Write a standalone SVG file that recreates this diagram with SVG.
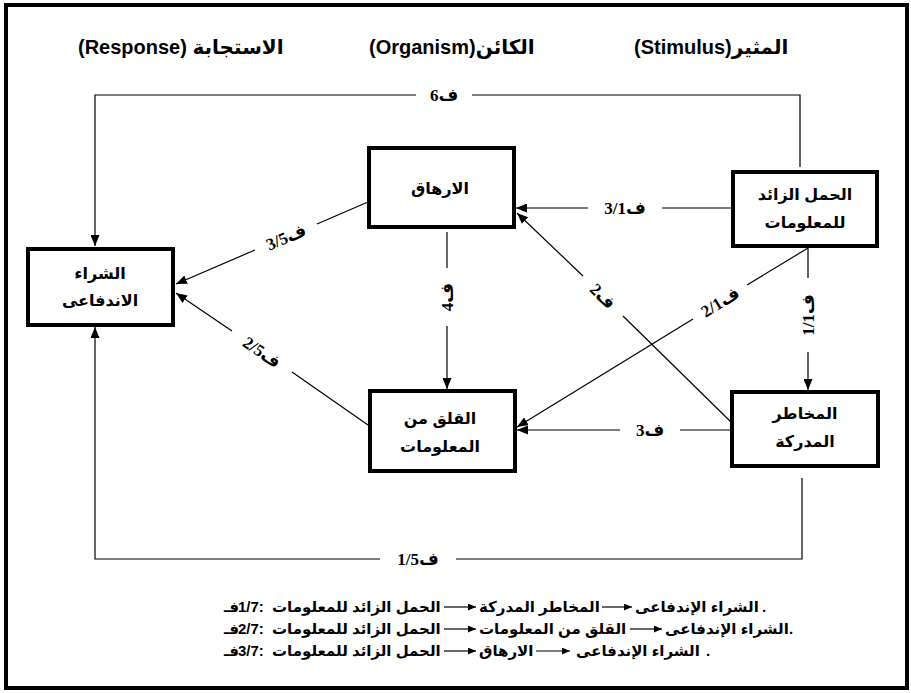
<svg xmlns="http://www.w3.org/2000/svg" width="911" height="693" viewBox="0 0 911 693">
<style>
.box{fill:#fff;stroke:#000;stroke-width:4}
.ln{fill:none;stroke:#000;stroke-width:1.2}
.hd{font-family:"Liberation Sans","DejaVu Sans",sans-serif;font-weight:bold;font-size:20px;fill:#000}
.bt{font-family:"Liberation Sans","DejaVu Sans",sans-serif;font-weight:bold;font-size:16px;fill:#000;text-anchor:middle}
.lb{font-family:"Liberation Serif","DejaVu Sans",serif;font-weight:bold;font-size:17px;fill:#000;text-anchor:middle}
.lg{font-family:"Liberation Sans","DejaVu Sans",sans-serif;font-weight:bold;font-size:15px;fill:#000}
</style>
<defs>
<marker id="ah" markerUnits="userSpaceOnUse" markerWidth="11" markerHeight="9" refX="11" refY="4.5" orient="auto">
<path d="M0,0 L11,4.5 L0,9 z" fill="#000"/>
</marker>
<marker id="sa" markerUnits="userSpaceOnUse" markerWidth="8" markerHeight="7" refX="8" refY="3.5" orient="auto">
<path d="M0,0 L8,3.5 L0,7 z" fill="#000"/>
</marker>
</defs>
<rect x="6" y="5" width="901" height="683" fill="#fff" stroke="#000" stroke-width="4"/>
<g id="headers">
<text class="hd" x="78" y="54">(Response) الاستجابة</text>
<text class="hd" x="369" y="54">(Organism)الكائن</text>
<text class="hd" x="634" y="54">(Stimulus)المثير</text>
</g>
<g id="connectors">
<path class="ln" d="M800,167 L800,95 L472,95"/>
<path class="ln" d="M416,95 L95,95 L95,246" marker-end="url(#ah)"/>
<text class="lb" x="444" y="101">ف6</text>
<path class="ln" d="M802,478 L802,559 L456,559"/>
<path class="ln" d="M380,559 L95,559 L95,327" marker-end="url(#ah)"/>
<text class="lb" x="418" y="565">ف1/5</text>
<path class="ln" d="M732,208 L662,208"/>
<path class="ln" d="M588,208 L516,208" marker-end="url(#ah)"/>
<text class="lb" x="625" y="214">ف3/1</text>
<path class="ln" d="M447,232 L447,268"/>
<path class="ln" d="M447,326 L447,389" marker-end="url(#ah)"/>
<text class="lb" transform="translate(447,297) rotate(-90)" dy="6">ف4</text>
<path class="ln" d="M808,248 L808,278"/>
<path class="ln" d="M808,352 L808,390" marker-end="url(#ah)"/>
<text class="lb" transform="translate(808,315) rotate(-90)" dy="6">ف1/1</text>
<path class="ln" d="M731,422 L623,316"/>
<path class="ln" d="M583,276 L517,213" marker-end="url(#ah)"/>
<text class="lb" transform="translate(603,296) rotate(44.3)" dy="6">ف2</text>
<path class="ln" d="M808,248 L747,285"/>
<path class="ln" d="M693,319 L517,427" marker-end="url(#ah)"/>
<text class="lb" transform="translate(720,302) rotate(-31.5)" dy="6">ف2/1</text>
<path class="ln" d="M731,430 L680,430"/>
<path class="ln" d="M620,430 L517,430" marker-end="url(#ah)"/>
<text class="lb" x="650" y="436">ف3</text>
<path class="ln" d="M368,202 L317,224"/>
<path class="ln" d="M255,250 L176,284" marker-end="url(#ah)"/>
<text class="lb" transform="translate(286,237) rotate(-23.2)" dy="6">ف3/5</text>
<path class="ln" d="M368,425 L292,372"/>
<path class="ln" d="M232,331 L176,293" marker-end="url(#ah)"/>
<text class="lb" transform="translate(262,352) rotate(34.6)" dy="6">ف2/5</text>
</g>
<g id="impulse">
<rect class="box" x="28" y="249" width="145" height="76"/>
<text class="bt" x="100" y="279">الشراء</text>
<text class="bt" x="100" y="306">الاندفاعى</text>
</g>
<g id="exhaustion">
<rect class="box" x="369" y="148" width="145" height="79"/>
<text class="bt" x="440" y="194">الارهاق</text>
</g>
<g id="overload">
<rect class="box" x="733" y="172" width="144" height="74"/>
<text class="bt" x="805" y="200">الحمل الزائد</text>
<text class="bt" x="805" y="228">للمعلومات</text>
</g>
<g id="anxiety">
<rect class="box" x="370" y="391" width="145" height="80"/>
<text class="bt" x="440" y="424">القلق من</text>
<text class="bt" x="440" y="452">المعلومات</text>
</g>
<g id="risks">
<rect class="box" x="732" y="392" width="146" height="74"/>
<text class="bt" x="805" y="419">المخاطر</text>
<text class="bt" x="805" y="447">المدركة</text>
</g>
<g id="legend">
<text class="lg" x="224" y="612">فـ</text>
<text class="lg" x="238" y="612">1/7:</text>
<text class="lg" x="272" y="612">الحمل الزائد للمعلومات</text>
<path class="ln" d="M444,607 L476,607" marker-end="url(#sa)"/>
<text class="lg" x="479" y="612">المخاطر المدركة</text>
<path class="ln" d="M602,607 L632,607" marker-end="url(#sa)"/>
<text class="lg" x="635" y="612">الشراء الإندفاعى</text>
<text class="lg" x="762" y="612">.</text>
<text class="lg" x="224" y="634">فـ</text>
<text class="lg" x="238" y="634">2/7:</text>
<text class="lg" x="272" y="634">الحمل الزائد للمعلومات</text>
<path class="ln" d="M444,629 L476,629" marker-end="url(#sa)"/>
<text class="lg" x="479" y="634">القلق من المعلومات</text>
<path class="ln" d="M630,629 L662,629" marker-end="url(#sa)"/>
<text class="lg" x="665" y="634">الشراء الإندفاعى</text>
<text class="lg" x="789" y="634">.</text>
<text class="lg" x="224" y="656">فـ</text>
<text class="lg" x="238" y="656">3/7:</text>
<text class="lg" x="272" y="656">الحمل الزائد للمعلومات</text>
<path class="ln" d="M444,651 L476,651" marker-end="url(#sa)"/>
<text class="lg" x="479" y="656">الارهاق</text>
<path class="ln" d="M536,651 L570,651" marker-end="url(#sa)"/>
<text class="lg" x="576" y="656">الشراء الإندفاعى</text>
<text class="lg" x="706" y="656">.</text>
</g>
</svg>
